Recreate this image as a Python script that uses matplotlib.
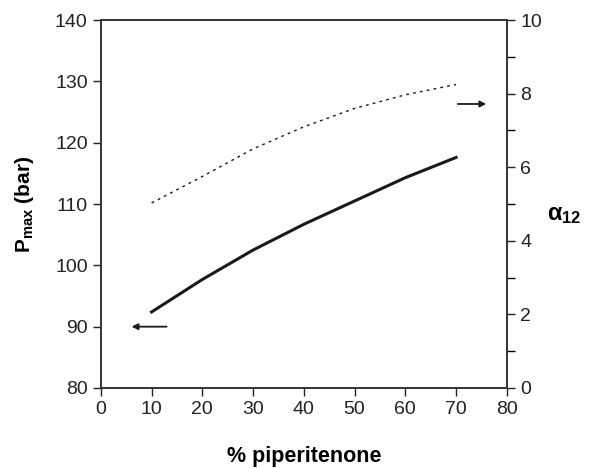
import matplotlib.pyplot as plt

plt.rcParams["font.family"] = ["Liberation Sans", "DejaVu Sans"]
plt.rcParams["mathtext.fontset"] = "custom"
plt.rcParams["mathtext.rm"] = "Liberation Sans"
plt.rcParams["mathtext.bf"] = "Liberation Sans:bold"
plt.rcParams["mathtext.it"] = "Liberation Sans:italic"

# data
pct = [10, 20, 30, 40, 50, 60, 70]
pmax = [92.4, 97.7, 102.5, 106.7, 110.5, 114.3, 117.6]
alpha12 = [5.03, 5.75, 6.5, 7.1, 7.6, 7.97, 8.25]

fig = plt.figure(figsize=(5.9, 4.68), dpi=100)
ax = fig.add_axes([0.171, 0.171, 0.688, 0.786])
ax2 = ax.twinx()

ax.plot(pct, pmax, color="#1a1a1a", lw=2.2)
ax2.plot(pct, alpha12, color="#1a1a1a", lw=1.0, ls=(0, (2, 3)))

ax.set_xlim(0, 80)
ax.set_ylim(80, 140)
ax2.set_ylim(0, 10)
ax.set_xticks(range(0, 81, 10))
ax.set_yticks(range(80, 141, 10))
ax2.set_yticks(range(0, 11, 2))
ax2.set_yticks(range(1, 10, 2), minor=True)

for a in (ax, ax2):
    a.tick_params(labelsize=14, colors="#222222", length=6, width=1, direction="out")
    a.tick_params(which="minor", length=6, width=1, direction="out")
    for s in a.spines.values():
        s.set_color("#333333")
        s.set_linewidth(1.2)

ax.set_xlabel("% piperitenone", fontsize=15.5, fontweight="bold", labelpad=20)
ax.set_ylabel(r"P$_{\mathbf{max}}$ (bar)", fontsize=15, fontweight="bold", labelpad=14)
ax2.set_ylabel(r"$\mathbf{\alpha}_{\mathbf{12}}$", fontsize=17, rotation=0, labelpad=16, va="top")

# arrows pointing to the matching axis
ax.annotate("", xy=(5.5, 90), xytext=(13.5, 90),
            arrowprops=dict(arrowstyle="-|>", color="#1a1a1a", lw=1.3, mutation_scale=9))
ax2.annotate("", xy=(76.5, 7.72), xytext=(69.8, 7.72),
             arrowprops=dict(arrowstyle="-|>", color="#1a1a1a", lw=1.3, mutation_scale=9))

plt.savefig("out.png", dpi=100)
